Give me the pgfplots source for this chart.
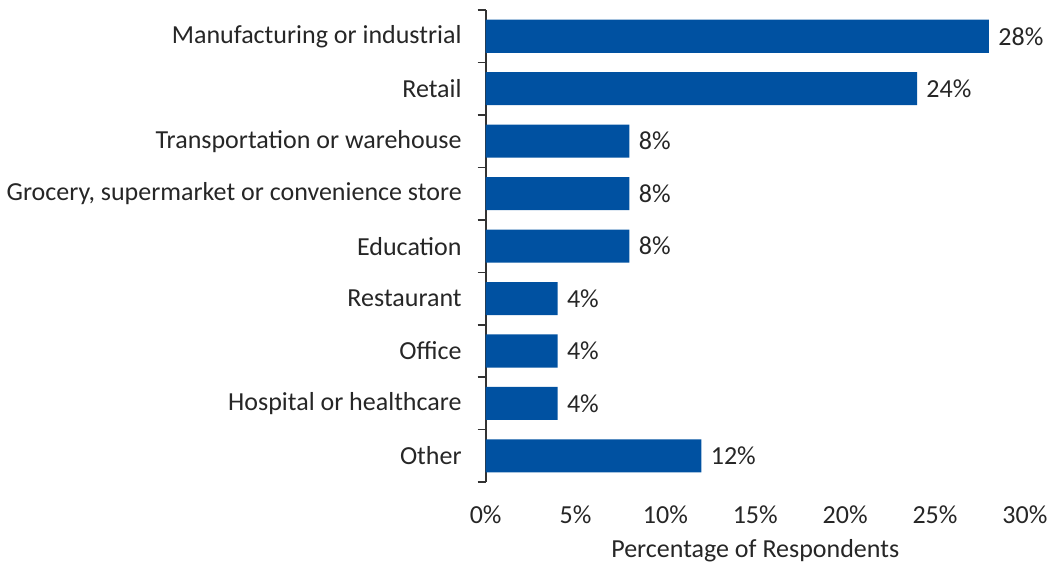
\documentclass[border=0pt]{standalone}
\usepackage{pgfplots}
\pgfplotsset{compat=1.18}
\usepackage{fontspec}
\setmainfont{Carlito}
\definecolor{barblue}{RGB}{0,81,161}
\definecolor{txt}{RGB}{38,38,38}
\begin{document}
\begin{tikzpicture}
\begin{axis}[
    xbar, scale only axis,
    width=269.5pt, height=236pt,
    xmin=0, xmax=30,
    ymin=-0.5, ymax=8.5,
    y dir=reverse,
    bar width=0.63,
    axis y line*=left,
    axis x line*=bottom,
    x axis line style={draw=none},
    y axis line style={black!80, line width=0.8pt},
    xtick={0,5,...,30},
    xticklabel={\pgfmathprintnumber{\tick}\%},
    major tick length=0pt,
    ytick={0,...,8},
    yticklabels={Manufacturing or industrial, Retail, Transportation or warehouse,
      {Grocery, supermarket or convenience store}, Education, Restaurant, Office,
      Hospital or healthcare, Other},
    minor ytick={-0.5,0.5,...,8.5},
    minor tick length=4pt,
    tick align=outside,
    minor tick style={black!80, line width=0.8pt},
    tick label style={font=\fontsize{13}{15}\selectfont, text=txt},
    yticklabel style={xshift=-8.5pt},
    xticklabel style={yshift=-8.5pt},
    /pgf/number format/assume math mode=true,
    xlabel={Percentage of Respondents},
    xlabel style={font=\fontsize{13}{15}\selectfont, text=txt, yshift=-1pt},
    nodes near coords={\pgfmathprintnumber{\pgfplotspointmeta}\%},
    nodes near coords style={font=\fontsize{13}{15}\selectfont, text=txt, xshift=1.2pt},
]
\addplot[draw=none, fill=barblue] coordinates {
  (28,0) (24,1) (8,2) (8,3) (8,4) (4,5) (4,6) (4,7) (12,8)
};
\end{axis}
% white space above the plot, as in the original
\path ([yshift=5pt]current axis.north west);
\end{tikzpicture}
\end{document}
